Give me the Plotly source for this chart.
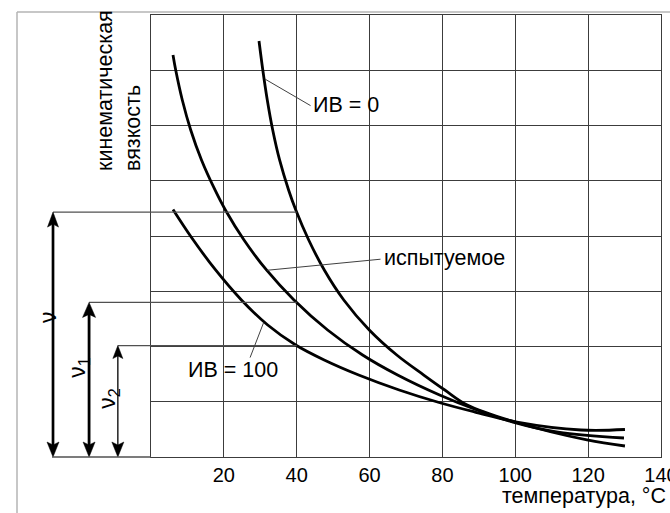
import numpy as np
import plotly.graph_objects as go

# ---------------- data ----------------
temp_iv0 = [29.65, 30.69, 31.92, 33.41, 35.30, 37.77, 39.75, 43.29, 47.57, 52.92, 59.92, 67.47,
            74.88, 80.65, 86.82, 99.89, 119.68, 130.11]
visc_iv0 = [7.529, 7.005, 6.462, 5.919, 5.376, 4.833, 4.471, 3.928, 3.385, 2.842, 2.299, 1.846,
            1.484, 1.213, 0.941, 0.633, 0.308, 0.199]

temp_test = [6.04, 6.78, 8.59, 10.90, 13.86, 17.57, 20.42, 25.53, 31.70, 39.25, 48.48, 58.08,
             67.69, 79.22, 89.49, 99.37, 111.72, 129.84]
visc_test = [7.276, 7.005, 6.462, 5.919, 5.376, 4.833, 4.471, 3.928, 3.385, 2.842, 2.299, 1.846,
             1.484, 1.122, 0.851, 0.633, 0.452, 0.344]

temp_iv100 = [6.04, 11.03, 17.73, 24.82, 32.04, 39.72, 47.54, 57.01, 68.13, 79.55, 88.94, 100.47,
              118.03, 130.11]
visc_iv100 = [4.480, 3.982, 3.385, 2.842, 2.389, 2.027, 1.756, 1.484, 1.213, 0.977, 0.814, 0.633,
              0.489, 0.498]

x_tick_vals = [20, 40, 60, 80, 100, 120, 140]
x_tick_text = ["20", "40", "60", "80", "100", "120", "140"]

label_iv0 = "ИВ = 0"
label_test = "испытуемое"
label_iv100 = "ИВ = 100"
y_title = "кинематическая<br>вязкость"
x_title = "температура, °C"
nu_labels = ["ν", "ν<sub>1</sub>", "ν<sub>2</sub>"]
nu_read_temp = 40

# ---------------- layout constants ----------------
W, H = 670, 513
ML, MR, MT, MB = 151, 9, 15, 56
PW, PH = W - ML - MR, H - MT - MB
X_RANGE = [0, 140]
Y_RANGE = [0, 8]


def xp(xd):
    return (xd - X_RANGE[0]) / (X_RANGE[1] - X_RANGE[0])


def yp(yd):
    return (yd - Y_RANGE[0]) / (Y_RANGE[1] - Y_RANGE[0])


def pxp_x(px):  # absolute page pixel -> paper
    return (px - ML) / PW


def pxp_y(py):
    return (H - MB - py) / PH


FONT = "Arial, Liberation Sans, sans-serif"
GRID = "#3c3c3c"
CURVE_W = 2.8
LABEL_SIZE = 21.5

fig = go.Figure()
for tx, vy in [(temp_iv0, visc_iv0), (temp_test, visc_test), (temp_iv100, visc_iv100)]:
    fig.add_trace(go.Scatter(x=tx, y=vy, mode="lines",
                             line=dict(color="black", width=CURVE_W, shape="spline", smoothing=1.0),
                             hoverinfo="skip", showlegend=False))

shapes = []
annotations = []

# nu levels at 40 °C
nu_vals = [float(np.interp(nu_read_temp, temp_iv0, visc_iv0)),
           float(np.interp(nu_read_temp, temp_test, visc_test)),
           float(np.interp(nu_read_temp, temp_iv100, visc_iv100))]
arrow_x = [-26.9, -17.0, -9.1]           # data-units left of the axis
arrow_w = [2.7, 2.8, 1.3]
head_wh = [(11, 15), (13, 15), (10, 13)]
label_pos = [(-28.3, 2.53), (-19.8, 1.63), (-11.7, 1.06)]

for ax_, nv, lw, (hw, hh), lab, (lx, ly) in zip(arrow_x, nu_vals, arrow_w, head_wh, nu_labels, label_pos):
    # horizontal reference line to the curve at 40 °C
    shapes.append(dict(type="line", xref="paper", yref="paper",
                       x0=xp(ax_), x1=xp(nu_read_temp), y0=yp(nv), y1=yp(nv),
                       line=dict(color="#505050", width=1.2)))
    # shaft
    shapes.append(dict(type="line", xref="paper", yref="paper",
                       x0=xp(ax_), x1=xp(ax_), y0=yp(0) + 10 / PH, y1=yp(nv) - 10 / PH,
                       line=dict(color="black", width=lw)))
    cx = xp(ax_)
    dx = hw / 2 / PW
    dy = hh / PH
    ty = yp(nv)
    shapes.append(dict(type="path", xref="paper", yref="paper",
                       path=f"M {cx},{ty} L {cx - dx},{ty - dy} L {cx},{ty - dy * 0.8} L {cx + dx},{ty - dy} Z",
                       fillcolor="black", line=dict(color="black", width=0.5)))
    by = yp(0)
    hw2 = 12 / 2 / PW
    dy2 = 15 / PH
    shapes.append(dict(type="path", xref="paper", yref="paper",
                       path=f"M {cx},{by} L {cx - hw2},{by + dy2} L {cx},{by + dy2 * 0.8} L {cx + hw2},{by + dy2} Z",
                       fillcolor="black", line=dict(color="black", width=0.5)))
    annotations.append(dict(xref="paper", yref="paper", x=xp(lx), y=yp(ly), text=lab,
                            showarrow=False, textangle=-90, xanchor="center", yanchor="middle",
                            font=dict(family=FONT, size=23, color="black")))

# baseline under the arrows
shapes.append(dict(type="line", xref="paper", yref="paper",
                   x0=pxp_x(52), x1=0, y0=0, y1=0, line=dict(color="#505050", width=1.4)))

# light outer frame
shapes.append(dict(type="line", xref="paper", yref="paper",
                   x0=pxp_x(17), x1=pxp_x(17), y0=pxp_y(12), y1=pxp_y(H + 2),
                   line=dict(color="#b4b4b4", width=1.5)))
shapes.append(dict(type="line", xref="paper", yref="paper",
                   x0=pxp_x(17), x1=pxp_x(W + 2), y0=pxp_y(12), y1=pxp_y(12),
                   line=dict(color="#b4b4b4", width=1.5)))

# pointer lines for the curve labels
pointer_col = "#404040"
shapes.append(dict(type="line", xref="x", yref="y", x0=31.3, y0=6.84, x1=43.8, y1=6.36,
                   line=dict(color=pointer_col, width=1)))
shapes.append(dict(type="line", xref="x", yref="y", x0=31.9, y0=3.38, x1=63.0, y1=3.58,
                   line=dict(color=pointer_col, width=1)))
shapes.append(dict(type="line", xref="x", yref="y", x0=30.9, y0=2.43, x1=27.2, y1=1.80,
                   line=dict(color=pointer_col, width=1)))

annotations += [
    dict(x=43.9, y=6.37, xref="x", yref="y", text=label_iv0, showarrow=False,
         xanchor="left", yanchor="middle", font=dict(family=FONT, size=LABEL_SIZE, color="black")),
    dict(x=63.3, y=3.60, xref="x", yref="y", text=label_test, showarrow=False,
         xanchor="left", yanchor="middle", font=dict(family=FONT, size=LABEL_SIZE, color="black")),
    dict(x=22.6, y=1.575, xref="x", yref="y", text=label_iv100, showarrow=False,
         xanchor="center", yanchor="middle", font=dict(family=FONT, size=LABEL_SIZE, color="black")),
    dict(x=pxp_x(119), y=pxp_y(91), xref="paper", yref="paper", text=y_title, showarrow=False,
         textangle=-90, align="left", xanchor="center", yanchor="middle",
         font=dict(family=FONT, size=LABEL_SIZE, color="black")),
    dict(x=pxp_x(668), y=pxp_y(496), xref="paper", yref="paper", text=x_title, showarrow=False,
         xanchor="right", yanchor="middle", font=dict(family=FONT, size=LABEL_SIZE, color="black")),
]

fig.update_layout(
    width=W, height=H,
    margin=dict(l=ML, r=MR, t=MT, b=MB, autoexpand=False),
    paper_bgcolor="white", plot_bgcolor="white",
    showlegend=False,
    font=dict(family=FONT, color="black"),
    shapes=shapes, annotations=annotations,
)
fig.update_xaxes(range=X_RANGE, tickvals=x_tick_vals, ticktext=x_tick_text,
                 showgrid=True, gridcolor=GRID, gridwidth=1.3,
                 showline=True, linecolor=GRID, linewidth=1.3, mirror=True,
                 zeroline=False, ticks="", ticklabeloverflow="allow",
                 tickfont=dict(family=FONT, size=20, color="black"), automargin=False,
                 fixedrange=True)
fig.update_yaxes(range=Y_RANGE, dtick=1, tick0=0, showticklabels=False,
                 showgrid=True, gridcolor=GRID, gridwidth=1.3,
                 showline=True, linecolor=GRID, linewidth=1.3, mirror=True,
                 zeroline=False, ticks="", automargin=False, fixedrange=True)

fig.write_html("out.html", config=dict(displayModeBar=False))
